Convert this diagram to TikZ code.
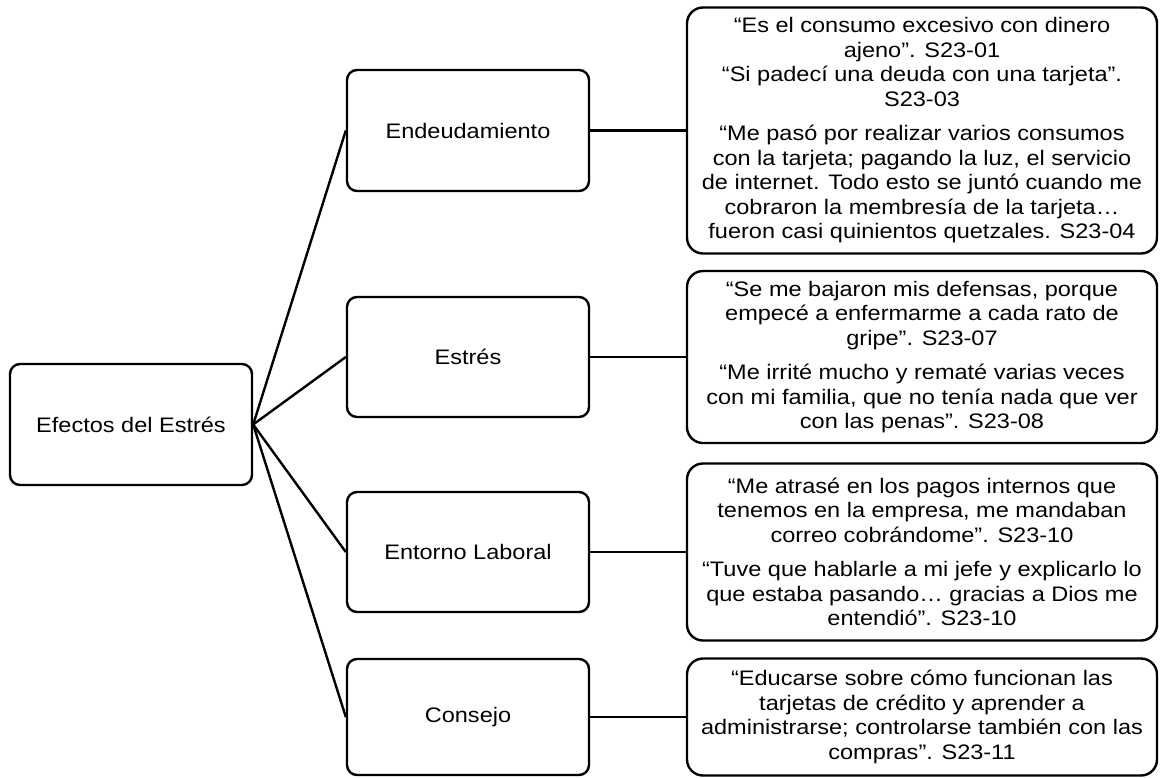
\documentclass[tikz,border=0pt]{standalone}
\usepackage{fontspec}
\setmainfont{Liberation Sans}[FakeStretch=1.12]
\begin{document}
\begin{tikzpicture}[x=1pt,y=-1pt,
  every node/.style={font=\fontsize{21pt}{24.5pt}\selectfont},
  topicbox/.style={draw, line width=2.4pt, rounded corners=10pt, align=center,
    inner sep=0pt, minimum width=242pt},
  quotebox/.style={draw, line width=2.4pt, rounded corners=16pt, align=center,
    inner sep=0pt, minimum width=470pt},
  link/.style={line width=2.4pt}]
\useasboundingbox (0,0) rectangle (1160,777);

% root
\node[topicbox, minimum height=121pt] (root) at (131,424.5) {Efectos del Estrés};

% themes
\node[topicbox, minimum height=121pt] (endeu) at (468,130.5) {Endeudamiento};
\node[topicbox, minimum height=120pt] (estres) at (468,357) {Estrés};
\node[topicbox, minimum height=120pt] (laboral) at (468,552) {Entorno Laboral};
\node[topicbox, minimum height=116pt] (consejo) at (468,717) {Consejo};

% quotes
\node[quotebox, minimum height=246pt] (q1) at (922,130.5) {%
“Es el consumo excesivo con dinero\\
ajeno”. S23-01\\
“Si padecí una deuda con una tarjeta”.\\
S23-03\\[10pt]
“Me pasó por realizar varios consumos\\
con la tarjeta; pagando la luz, el servicio\\
de internet. Todo esto se juntó cuando me\\
cobraron la membresía de la tarjeta…\\
fueron casi quinientos quetzales. S23-04};

\node[quotebox, minimum height=172pt] (q2) at (922,357) {%
“Se me bajaron mis defensas, porque\\
empecé a enfermarme a cada rato de\\
gripe”. S23-07\\[10pt]
“Me irrité mucho y rematé varias veces\\
con mi familia, que no tenía nada que ver\\
con las penas”. S23-08};

\node[quotebox, minimum height=177pt] (q3) at (922,552) {%
“Me atrasé en los pagos internos que\\
tenemos en la empresa, me mandaban\\
correo cobrándome”. S23-10\\[10pt]
“Tuve que hablarle a mi jefe y explicarlo lo\\
que estaba pasando… gracias a Dios me\\
entendió”. S23-10};

\node[quotebox, minimum height=117pt] (q4) at (922,717) {%
“Educarse sobre cómo funcionan las\\
tarjetas de crédito y aprender a\\
administrarse; controlarse también con las\\
compras”. S23-11};

% connectors
\foreach \t in {endeu,estres,laboral,consejo}
  \draw[link] (root.east) -- (\t.west);
\draw[link] (endeu.east) -- (q1.west);
\draw[link] (estres.east) -- (q2.west);
\draw[link] (laboral.east) -- (q3.west);
\draw[link] (consejo.east) -- (q4.west);
\end{tikzpicture}
\end{document}
